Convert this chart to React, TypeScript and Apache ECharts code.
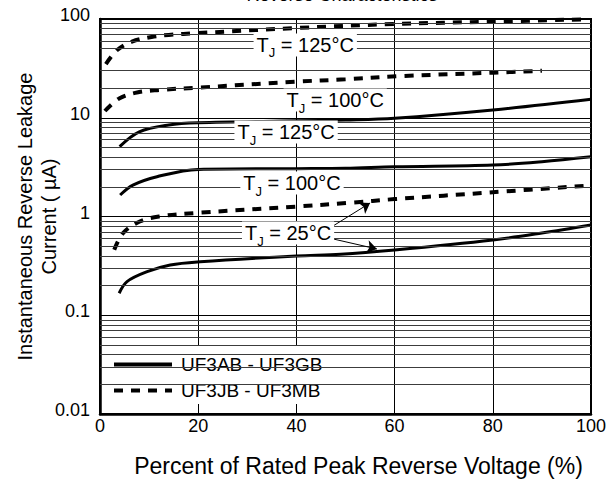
import React, { useEffect, useRef } from 'react';
import * as echarts from 'echarts';

// ---- data ----
const xTicks = [0, 20, 40, 60, 80, 100];
const yTickLabels = ['0.01', '0.1', '1', '10', '100'];

// UF3JB - UF3MB (dashed)
const pctJ125 = [1.2, 3.5, 6.5, 10.5, 14, 20, 40, 60, 80, 98];
const curJ125 = [35, 48.5, 59, 65.8, 68.9, 72, 81, 89, 94, 99];
const pctJ100 = [1, 4, 8, 12, 20, 40, 50, 62, 80, 90];
const curJ100 = [11.7, 15.8, 18.2, 19.1, 20.2, 23.2, 24.5, 26.5, 28.6, 29.9];
const pctJ25 = [2.9, 4.7, 8.1, 12, 20, 40, 51, 60, 80, 99];
const curJ25 = [0.46, 0.68, 0.89, 1.0, 1.09, 1.26, 1.38, 1.5, 1.76, 2.05];

// UF3AB - UF3GB (solid)
const pctA125 = [4, 8, 14, 20, 40, 50, 60, 80, 100];
const curA125 = [5.1, 7.2, 8.45, 8.9, 9.3, 9.5, 9.9, 12.0, 15.4];
const pctA100 = [4.1, 6.7, 11.6, 20, 40, 50, 60, 80, 90, 100];
const curA100 = [1.65, 2.08, 2.53, 3.0, 3.05, 3.08, 3.19, 3.32, 3.59, 4.03];
const pctA25 = [3.9, 5.5, 9.6, 14.3, 20.4, 40, 49, 60, 80, 90, 100];
const curA25 = [0.167, 0.219, 0.276, 0.323, 0.348, 0.398, 0.414, 0.458, 0.578, 0.68, 0.82];

const legendNames = ['UF3AB - UF3GB', 'UF3JB - UF3MB'];

// annotation labels: [x %, current µA, temperature text]
const noteLabels: [number, number, string][] = [
  [41.8, 54.6, '125°C'],
  [47.9, 15.1, '100°C'],
  [37.9, 7.17, '125°C'],
  [39.1, 2.18, '100°C'],
  [38.3, 0.68, '25°C'],
];
// arrows: from [x,y] to [x,y]
const noteArrows: [[number, number], [number, number]][] = [
  [[46.8, 0.765], [55, 1.37]],
  [[47.5, 0.592], [56.4, 0.469]],
];

const FONT = "'Liberation Sans', Arial, Helvetica, sans-serif";

function pairs(xs: number[], ys: number[]) {
  return xs.map((x, i) => [x, ys[i]]);
}

export default function App() {
  const ref = useRef<HTMLDivElement>(null);
  useEffect(() => {
    if (!ref.current) return;
    const chart = echarts.init(ref.current, undefined, { renderer: 'svg' });

    // minor log grid lines (2..9 in each decade)
    const minors: number[] = [];
    for (let d = -2; d < 2; d++) {
      for (let m = 2; m <= 9; m++) {
        const v = m * Math.pow(10, d);
        if (Math.abs(v - 40) < 1e-9) continue;
        minors.push(+v.toPrecision(3));
      }
    }

    const solid = { type: 'solid', width: 3, color: '#000' };
    const dashed = { type: [9, 8], width: 4, color: '#000' };

    const curve = (name: string, data: number[][], ls: any) => ({
      type: 'line',
      name,
      data,
      smooth: 0.35,
      showSymbol: false,
      symbol: 'none',
      lineStyle: ls,
      itemStyle: { color: '#000' },
      z: 2,
    });

    const option: any = {
      animation: false,
      backgroundColor: '#fff',
      textStyle: { fontFamily: FONT, color: '#000' },
      grid: {
        left: 100,
        right: 25,
        top: 19,
        bottom: 67,
        outerBoundsMode: 'none',
        containLabel: false,
        show: true,
        borderColor: '#000',
        borderWidth: 2,
      },
      legend: {
        data: legendNames,
        orient: 'vertical',
        left: 106,
        top: 345,
        itemWidth: 58,
        itemHeight: 18,
        itemGap: 7,
        padding: [10, 8, 4, 6],
        backgroundColor: '#fff',
        textStyle: { fontSize: 19, color: '#000', fontFamily: FONT, padding: [0, 0, 0, 4] },
        itemStyle: { opacity: 0 },
        lineStyle: { width: 4, opacity: 1 },
      },
      xAxis: {
        type: 'value',
        min: 0,
        max: 100,
        interval: 20,
        name: 'Percent of Rated Peak Reverse Voltage (%)',
        nameLocation: 'middle',
        nameGap: 40,
        nameMoveOverlap: false,
        nameTextStyle: { fontSize: 23, color: '#000', fontFamily: FONT, padding: [0, 0, 0, 26] },
        axisLine: { show: true, lineStyle: { color: '#000', width: 2.5 } },
        axisTick: { show: true, inside: true, length: 4, lineStyle: { color: '#000' } },
        axisLabel: {
          fontSize: 18,
          color: '#000',
          fontFamily: FONT,
          margin: 3,
          formatter: (v: number) => (xTicks.includes(v) ? String(v) : ''),
        },
        splitLine: { show: true, lineStyle: { color: '#000', width: 1 } },
      },
      yAxis: {
        type: 'log',
        logBase: 10,
        min: 0.01,
        max: 100,
        name: 'Instantaneous Reverse Leakage\nCurrent ( µA)',
        nameLocation: 'middle',
        nameRotate: 90,
        nameGap: 39,
        nameMoveOverlap: false,
        nameTextStyle: { fontSize: 20, color: '#000', fontFamily: FONT, lineHeight: 24 },
        axisLine: { show: true, lineStyle: { color: '#000', width: 2.5 } },
        axisTick: { show: false },
        axisLabel: {
          fontSize: 18,
          color: '#000',
          fontFamily: FONT,
          margin: 10,
          lineHeight: 8,
          verticalAlign: 'bottom',
          formatter: (v: number) => {
            const i = Math.round(Math.log10(v)) + 2;
            return yTickLabels[i] ?? '';
          },
        },
        splitLine: { show: true, lineStyle: { color: '#000', width: 1 } },
      },
      graphic: [
        {
          type: 'text',
          x: 342,
          y: 4,
          style: {
            text: 'Reverse Characteristics',
            font: `18px ${FONT}`,
            fill: '#000',
            textAlign: 'center',
            textVerticalAlign: 'bottom',
          },
        },
      ],
      series: [
        {
          type: 'line',
          name: '__grid',
          data: [],
          z: 1,
          silent: true,
          markLine: {
            silent: true,
            symbol: ['none', 'none'],
            label: { show: false },
            lineStyle: { color: '#3c3c3c', width: 1, type: 'solid' },
            data: minors.map((v) => ({ yAxis: v })),
          },
        },
        curve(legendNames[0], pairs(pctA125, curA125), solid),
        curve(legendNames[1], pairs(pctJ125, curJ125), dashed),
        curve(legendNames[0], pairs(pctA100, curA100), solid),
        curve(legendNames[1], pairs(pctJ100, curJ100), dashed),
        curve(legendNames[0], pairs(pctA25, curA25), solid),
        curve(legendNames[1], pairs(pctJ25, curJ25), dashed),
        {
          type: 'line',
          name: '__notes',
          data: [],
          z: 3,
          silent: true,
          markPoint: {
            symbol: 'rect',
            symbolSize: 1,
            itemStyle: { color: 'rgba(0,0,0,0)' },
            label: {
              show: true,
              position: 'inside',
              backgroundColor: '#fff',
              padding: [1, 3, 1, 3],
              color: '#000',
              rich: {
                t: { fontSize: 20, fontFamily: FONT, color: '#000', lineHeight: 21 },
                s: { fontSize: 13, fontFamily: FONT, color: '#000', lineHeight: 13, verticalAlign: 'bottom', padding: [0, 0, -4, 0] },
              },
            },
            data: noteLabels.map(([x, y, t]) => ({
              coord: [x, y],
              value: t,
              label: { formatter: `{t|T}{s|J}{t| = ${t}}` },
            })),
          },
          markLine: {
            silent: true,
            symbol: ['none', 'arrow'],
            symbolSize: 10,
            label: { show: false },
            lineStyle: { color: '#000', width: 1, type: 'solid' },
            data: noteArrows.map(([a, b]) => [{ coord: a }, { coord: b }]),
          },
        },
      ],
    };
    chart.setOption(option);
    return () => chart.dispose();
  }, []);

  return (
    <div
      ref={ref}
      style={{ position: 'fixed', left: 0, top: 0, width: 616, height: 481 }}
    />
  );
}
